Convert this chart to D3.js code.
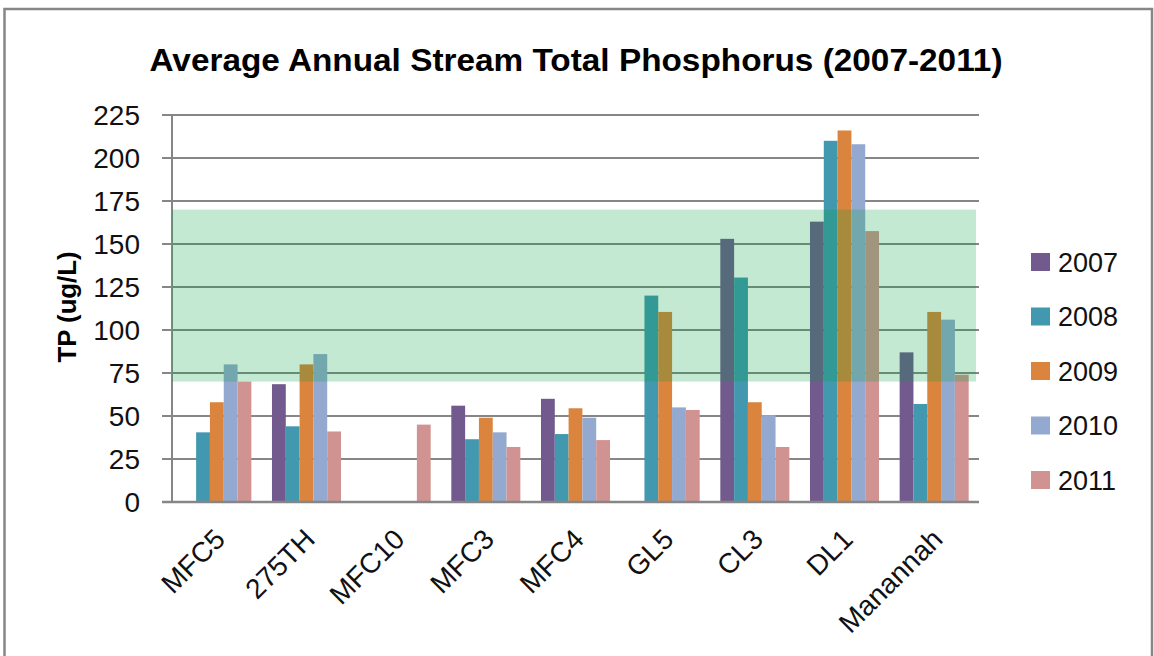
<!DOCTYPE html>
<html><head><meta charset="utf-8">
<script src="https://cdn.jsdelivr.net/npm/d3@7"></script>
<style>body{margin:0;background:#fff} svg{display:block}</style>
</head><body><svg id="c" width="1154" height="656"></svg>
<script>
const categories = ["MFC5","275TH","MFC10","MFC3","MFC4","GL5","CL3","DL1","Manannah"];
const years = ["2007","2008","2009","2010","2011"];
const tp2007 = [null,68.5,null,56,60,null,153,163,87];
const tp2008 = [40.5,44,null,36.5,39.5,120,130.5,210,57];
const tp2009 = [58,80,null,49,54.5,110.5,58,216,110.5];
const tp2010 = [80,86,null,40.5,49,55,50.5,208,106];
const tp2011 = [70,41,45,32,36,53.5,32,157.5,74];
const yTicks = [0,25,50,75,100,125,150,175,200,225];
const targetRange = [70,170];
const colors = ["#725A8F","#4198AF","#DB843D","#93A9CF","#D19392"];
const series = [tp2007,tp2008,tp2009,tp2010,tp2011];

const svg = d3.select("#c");
const L = 172, R = 979, T = 115, B = 502;
const font = "'Liberation Sans', Arial, sans-serif";

svg.append("rect").attr("width",1154).attr("height",656).attr("fill","#fff");
svg.append("rect").attr("x",4.5).attr("y",9).attr("width",1147.5).attr("height",700)
  .attr("fill","none").attr("stroke","#868686").attr("stroke-width",2.5);

const x0 = d3.scaleBand().domain(categories).range([L,R]).padding(0);
const x1 = d3.scaleBand().domain(years).range([x0.bandwidth()*0.115, x0.bandwidth()*0.885]).padding(0);
const y = d3.scaleLinear().domain([0,225]).range([B,T]);

// gridlines + ticks
svg.append("g").selectAll("line").data(yTicks).join("line")
  .attr("x1",L-10).attr("x2",R).attr("y1",d=>y(d)).attr("y2",d=>y(d))
  .attr("stroke","#868686").attr("stroke-width",2);
// y axis line
svg.append("line").attr("x1",L).attr("x2",L).attr("y1",y(225)).attr("y2",y(0))
  .attr("stroke","#868686").attr("stroke-width",2);

// bars
const rows = [];
categories.forEach((c,i)=>years.forEach((yr,j)=>{ if(series[j][i]!=null) rows.push({c,yr,v:series[j][i],col:colors[j]}); }));
svg.append("g").selectAll("rect").data(rows).join("rect")
  .attr("x",d=>x0(d.c)+x1(d.yr)).attr("width",x1.bandwidth())
  .attr("y",d=>y(d.v)).attr("height",d=>y(0)-y(d.v)).attr("fill",d=>d.col);

// x axis line
svg.append("line").attr("x1",L-10).attr("x2",R).attr("y1",y(0)).attr("y2",y(0))
  .attr("stroke","#868686").attr("stroke-width",2.5);

// target band
svg.append("rect").attr("x",L).attr("width",R-3-L)
  .attr("y",y(targetRange[1])).attr("height",y(targetRange[0])-y(targetRange[1]))
  .attr("fill","#00A03C").attr("opacity",0.23);

// y tick labels
svg.append("g").selectAll("text").data(yTicks).join("text")
  .attr("x",140).attr("y",d=>y(d)).attr("dy","0.36em").attr("text-anchor","end")
  .attr("font-family",font).attr("font-size",28).attr("fill","#111").text(d=>d);

// y title
svg.append("text").attr("transform","translate(76,307) rotate(-90)").attr("text-anchor","middle")
  .attr("font-family",font).attr("font-weight","bold").attr("font-size",25)
  .attr("textLength",111).attr("lengthAdjust","spacingAndGlyphs").text("TP (ug/L)");

// x labels
svg.append("g").selectAll("text").data(categories).join("text")
  .attr("transform",d=>`translate(${x0(d)+x0.bandwidth()/2+10},541) rotate(-45)`)
  .attr("text-anchor","end").attr("font-family",font).attr("font-size",28).attr("fill","#111").text(d=>d);

// title
svg.append("text").attr("x",576).attr("y",71).attr("text-anchor","middle")
  .attr("font-family","'Liberation Sans Narrow', 'Liberation Sans', Arial, sans-serif").attr("font-weight","bold").attr("font-size",31)
  .attr("textLength",853).attr("lengthAdjust","spacingAndGlyphs")
  .text("Average Annual  Stream Total Phosphorus (2007-2011)");

// legend
const lg = svg.append("g").selectAll("g").data(years).join("g")
  .attr("transform",(d,i)=>`translate(1031,${262+i*54.5})`);
lg.append("rect").attr("x",0).attr("y",-9).attr("width",19).attr("height",18).attr("fill",(d,i)=>colors[i]);
lg.append("text").attr("x",27).attr("y",0).attr("dy","0.36em").attr("font-family",font).attr("font-size",27)
  .attr("fill","#111").text(d=>d);
</script></body></html>
